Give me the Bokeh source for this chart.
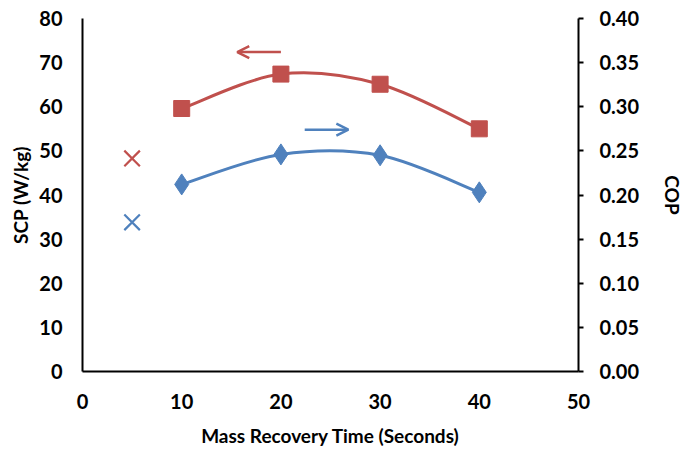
from bokeh.plotting import figure
from bokeh.models import Range1d, LinearAxis, Arrow, OpenHead, NumeralTickFormatter, FixedTicker
from bokeh.embed import file_html
from bokeh.resources import INLINE

# data
time_s = [10, 20, 30, 40]
scp = [59.6, 67.4, 65.1, 55.0]
cop = [0.212, 0.246, 0.245, 0.203]
ref_time = [5]
ref_scp = [48.3]
ref_cop = [0.169]
x_ticks = [0, 10, 20, 30, 40, 50]
scp_ticks = [0, 10, 20, 30, 40, 50, 60, 70, 80]
cop_ticks = [0.0, 0.05, 0.1, 0.15, 0.2, 0.25, 0.3, 0.35, 0.4]

RED = "#C0504D"
BLUE = "#4F81BD"
FONT = "Lato"


def smooth_segments(xs, ys):
    """Excel-style smoothed line: cubic Bezier control points from neighbours."""
    n = len(xs)
    out = dict(x0=[], y0=[], x1=[], y1=[], cx0=[], cy0=[], cx1=[], cy1=[])
    for i in range(n - 1):
        xp, yp = (xs[i - 1], ys[i - 1]) if i > 0 else (xs[i], ys[i])
        xn, yn = (xs[i + 2], ys[i + 2]) if i + 2 < n else (xs[i + 1], ys[i + 1])
        out["x0"].append(xs[i]); out["y0"].append(ys[i])
        out["x1"].append(xs[i + 1]); out["y1"].append(ys[i + 1])
        out["cx0"].append(xs[i] + (xs[i + 1] - xp) / 6)
        out["cy0"].append(ys[i] + (ys[i + 1] - yp) / 6)
        out["cx1"].append(xs[i + 1] - (xn - xs[i]) / 6)
        out["cy1"].append(ys[i + 1] - (yn - ys[i]) / 6)
    return out


p = figure(width=692, height=452, output_backend="svg", toolbar_location=None,
           x_range=Range1d(0, 50), y_range=Range1d(0, 80),
           min_border_left=82, min_border_right=114, min_border_top=18, min_border_bottom=81)
p.extra_y_ranges = {"cop": Range1d(0, 0.4)}
p.outline_line_color = None
p.xgrid.grid_line_color = None
p.ygrid.grid_line_color = None
p.background_fill_color = "white"
p.border_fill_color = "white"

# left axis
ya = p.yaxis[0]
ya.ticker = FixedTicker(ticks=scp_ticks)
ya.axis_label = "SCP (W/kg)"
# bottom axis
xa = p.xaxis[0]
xa.ticker = FixedTicker(ticks=x_ticks)
xa.axis_label = "Mass Recovery Time (Seconds)"

# right axis
ra = LinearAxis(y_range_name="cop", ticker=FixedTicker(ticks=cop_ticks),
                formatter=NumeralTickFormatter(format="0.00"), axis_label="COP")
p.add_layout(ra, "right")

for ax in (ya, xa, ra):
    ax.axis_line_color = "black"
    ax.axis_line_width = 2
    ax.minor_tick_line_color = None
    ax.major_label_text_font = FONT
    ax.major_label_text_font_style = "bold"
    ax.major_label_text_font_size = "20px"
    ax.major_label_text_color = "black"
    ax.axis_label_text_font = FONT
    ax.axis_label_text_font_style = "bold"
    ax.axis_label_text_font_size = "19px"
    ax.axis_label_text_color = "black"

ya.major_tick_line_color = None
ya.major_label_standoff = 14
ya.axis_label_standoff = 4
xa.major_tick_line_color = None
xa.major_label_standoff = 16
xa.axis_label_standoff = 12
ra.major_tick_in = 0
ra.major_tick_out = 5
ra.major_tick_line_width = 2
ra.major_tick_line_color = "black"
ra.major_label_standoff = 16
ra.axis_label_standoff = 19

# smoothed curves
rs = smooth_segments(time_s, scp)
p.bezier(x0="x0", y0="y0", x1="x1", y1="y1", cx0="cx0", cy0="cy0", cx1="cx1", cy1="cy1",
         source=rs, line_color=RED, line_width=3)
bs = smooth_segments(time_s, cop)
p.bezier(x0="x0", y0="y0", x1="x1", y1="y1", cx0="cx0", cy0="cy0", cx1="cx1", cy1="cy1",
         source=bs, line_color=BLUE, line_width=3, y_range_name="cop")

# markers
p.scatter(time_s, scp, marker="square", size=16, fill_color=RED, line_color=RED)
p.scatter(time_s, cop, marker="diamond", size=21, fill_color=BLUE, line_color=BLUE,
          y_range_name="cop")
p.scatter(ref_time, ref_scp, marker="x", size=22, line_color=RED, line_width=2.2)
p.scatter(ref_time, ref_cop, marker="x", size=22, line_color=BLUE, line_width=2.2,
          y_range_name="cop")

# arrows
p.add_layout(Arrow(end=OpenHead(size=12, line_color=RED, line_width=2.5),
                   x_start=20.0, y_start=72.4, x_end=15.6, y_end=72.4,
                   line_color=RED, line_width=2.5))
p.add_layout(Arrow(end=OpenHead(size=12, line_color=BLUE, line_width=2.5),
                   x_start=22.4, y_start=0.274, x_end=26.8, y_end=0.274,
                   line_color=BLUE, line_width=2.5, y_range_name="cop"))

open("out.html", "w").write(file_html(p, INLINE))
